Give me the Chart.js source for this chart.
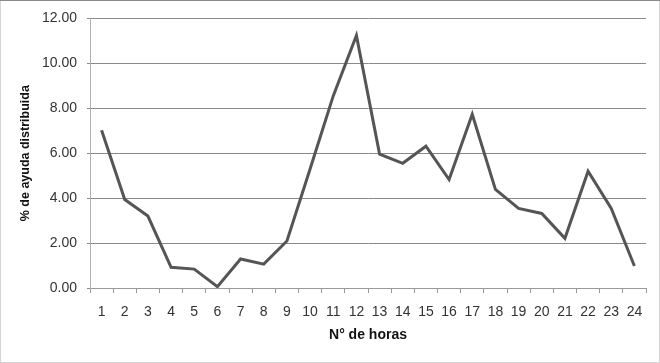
<!DOCTYPE html>
<html>
<head>
<meta charset="utf-8">
<script src="https://cdn.jsdelivr.net/npm/chart.js@4/dist/chart.umd.min.js"></script>
<style>
  html, body { margin: 0; padding: 0; background: #fff; }
  #wrap { width: 660px; height: 363px; position: relative; }
</style>
</head>
<body>
<div id="wrap"><canvas id="chart" width="660" height="363"></canvas></div>
<script>
// hours 1..24
var horas = ["1","2","3","4","5","6","7","8","9","10","11","12","13","14","15","16","17","18","19","20","21","22","23","24"]
// % de ayuda distribuida
var ayuda = [7.02, 3.94, 3.20, 0.92, 0.84, 0.06, 1.29, 1.06, 2.09, 5.30, 8.55, 11.24, 5.96, 5.55, 6.31, 4.83, 7.73, 4.39, 3.54, 3.32, 2.21, 5.20, 3.54, 0.98]
var yTicks = [0, 2, 4, 6, 8, 10, 12]

var fontName = "'Liberation Sans', 'DejaVu Sans', sans-serif"

// frame round the whole picture, like the spreadsheet export
var framePlugin = {
  id: 'frame',
  beforeDraw: function(c){
    var ctx = c.ctx
    ctx.save()
    ctx.fillStyle = '#fff'
    ctx.fillRect(0, 0, c.width, c.height)
    ctx.strokeStyle = '#d4d4d4'
    ctx.lineWidth = 1
    ctx.strokeRect(0.5, 0.5, c.width - 1, c.height - 1)
    ctx.strokeStyle = '#8a8a8a'
    ctx.beginPath()
    ctx.moveTo(0, 0.5)
    ctx.lineTo(c.width, 0.5)
    ctx.stroke()
    ctx.restore()
  }
}

var ctx = document.getElementById('chart').getContext('2d')
var chart = new Chart(ctx, {
  type: 'line',
  data: {
    labels: horas,
    datasets: [{
      label: '% de ayuda distribuida',
      data: ayuda,
      borderColor: '#555555',
      borderWidth: 3,
      pointRadius: 0,
      tension: 0,
      fill: false
    }]
  },
  options: {
    responsive: false,
    animation: false,
    layout: { padding: { top: 18, right: 14, left: 0, bottom: 0 } },
    plugins: {
      legend: { display: false },
      tooltip: { enabled: false }
    },
    scales: {
      x: {
        offset: true,
        afterFit: function(s){ s.height = 75 },
        grid: {
          offset: true,
          drawOnChartArea: false,
          drawTicks: true,
          tickLength: 5,
          color: '#9a9a9a'
        },
        border: { color: '#9a9a9a' },
        ticks: {
          color: '#333',
          font: { family: fontName, size: 14 },
          maxRotation: 0,
          autoSkip: false,
          padding: 11
        },
        title: {
          display: true,
          text: 'N° de horas',
          color: '#111',
          font: { family: fontName, size: 14, weight: 'bold' },
          padding: { top: 0, bottom: 19 }
        }
      },
      y: {
        min: 0,
        max: 12,
        afterFit: function(s){ s.width = 90 },
        afterBuildTicks: function(s){
          s.ticks = yTicks.map(function(v){ return { value: v } })
        },
        grid: {
          color: '#8a8a8a',
          tickLength: 3
        },
        border: { color: '#b0b0b0' },
        ticks: {
          color: '#333',
          font: { family: fontName, size: 14 },
          padding: 10,
          callback: function(v){ return v.toFixed(2) }
        },
        title: {
          display: true,
          text: '% de ayuda distribuida',
          color: '#111',
          font: { family: fontName, size: 12.5, weight: 'bold' },
          padding: { top: 18, bottom: 0 }
        }
      }
    }
  },
  plugins: [framePlugin]
})
</script>
</body>
</html>
